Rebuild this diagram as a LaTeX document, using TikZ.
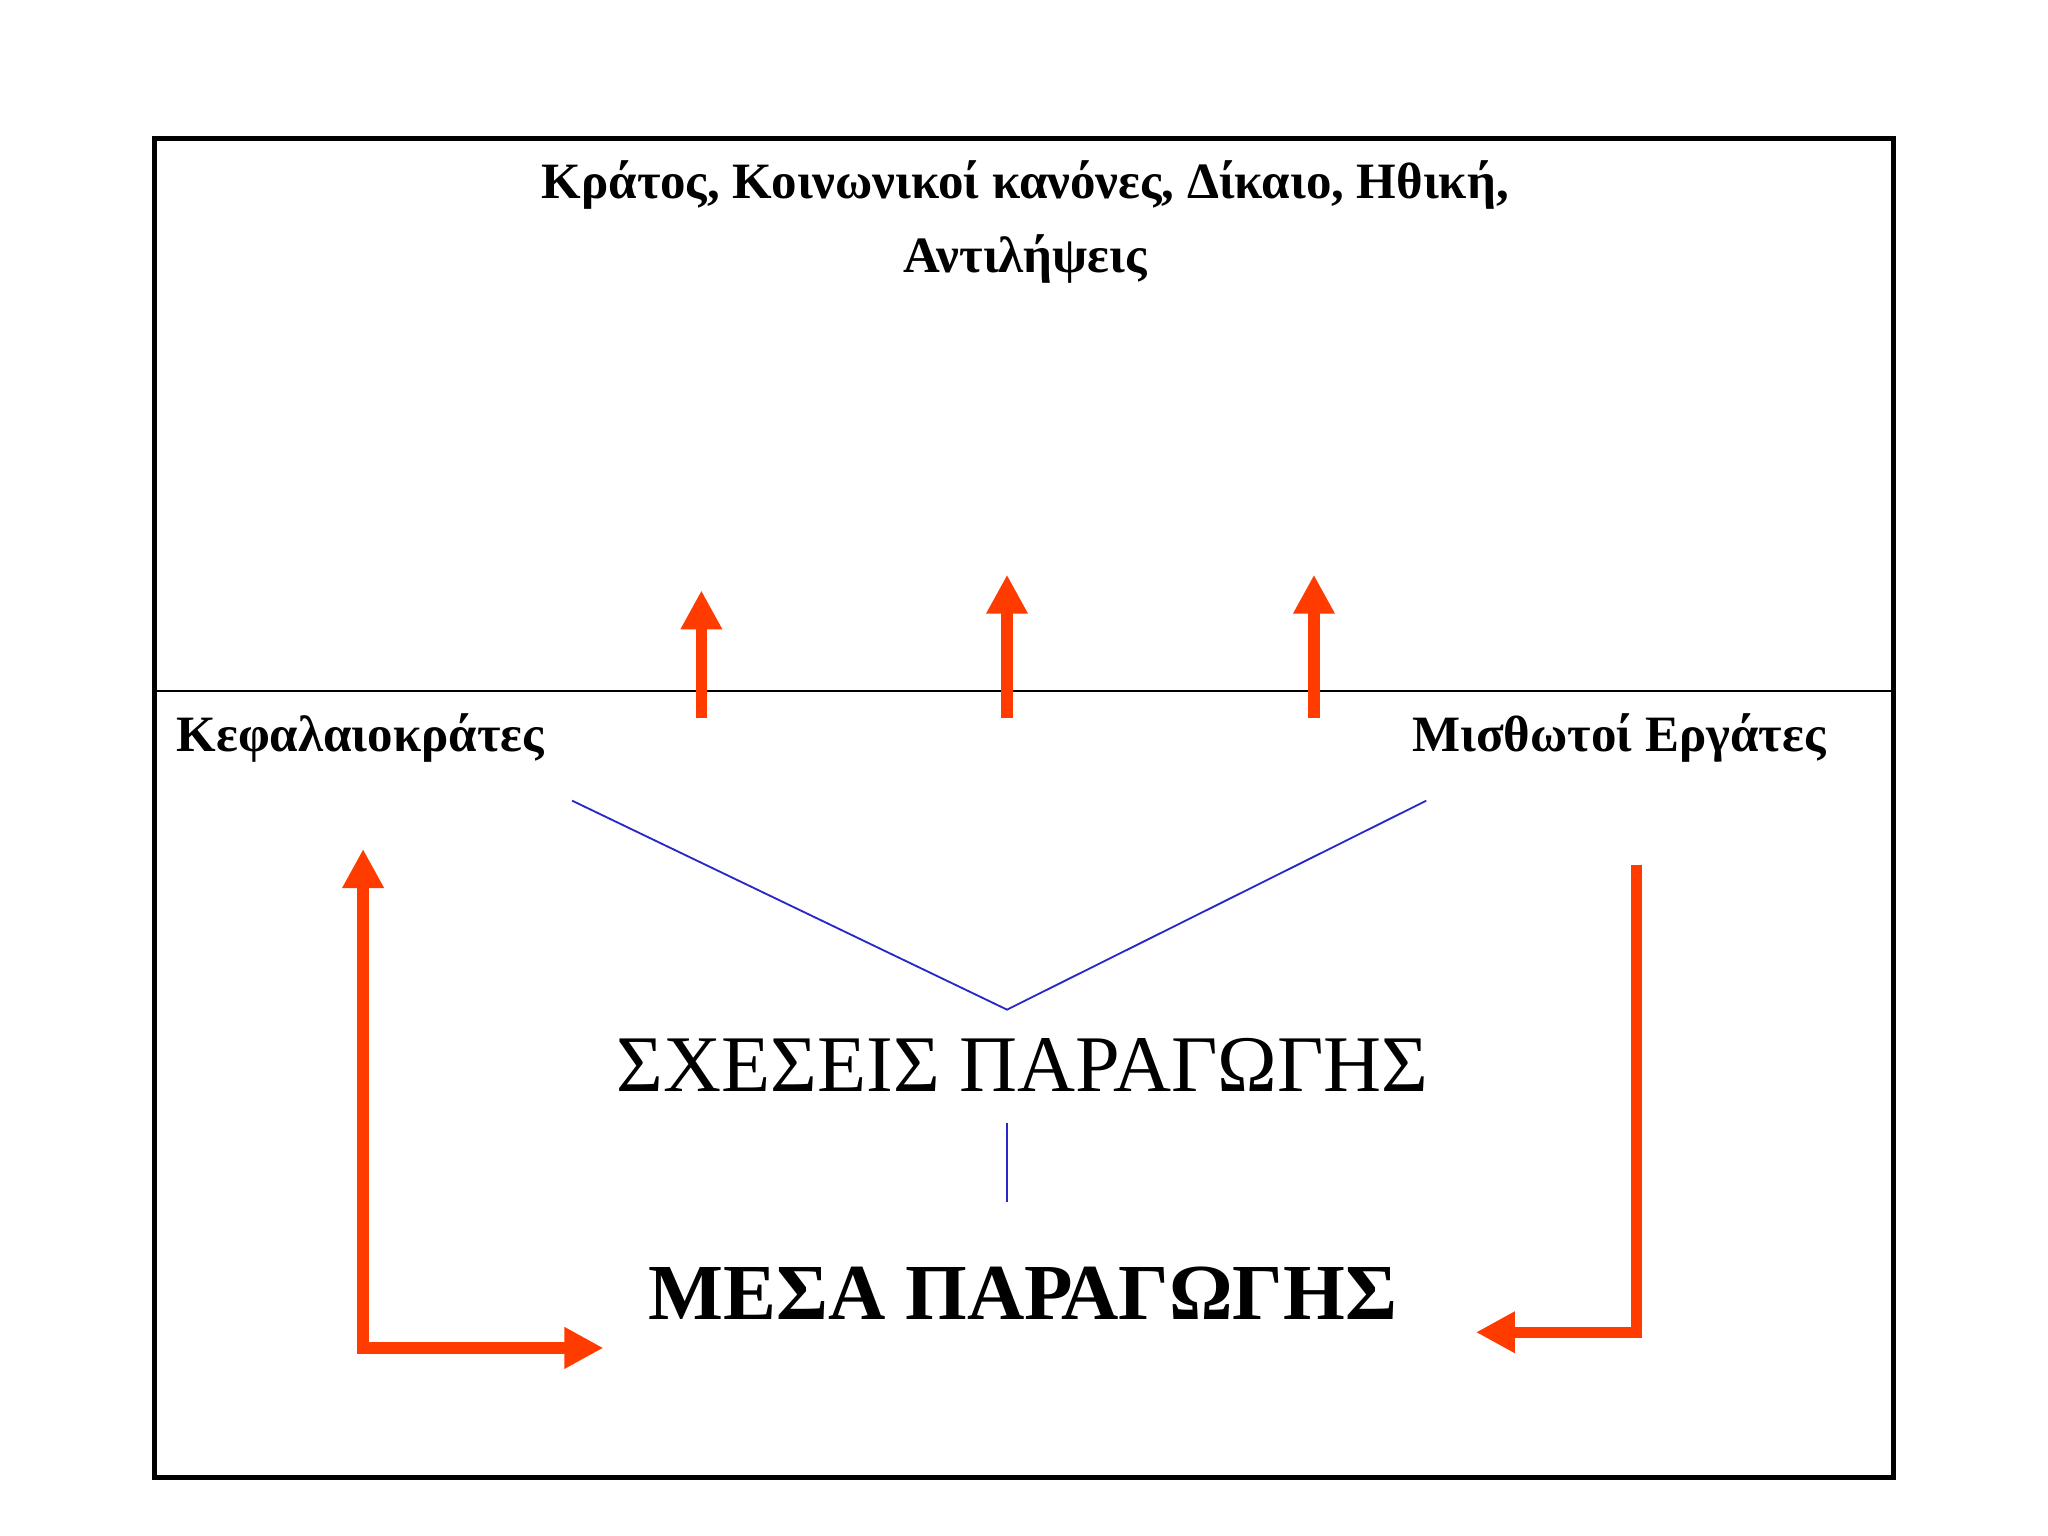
\documentclass[tikz,border=0pt]{standalone}
\usepackage{fontspec}
\setmainfont{Liberation Serif}
\usetikzlibrary{arrows.meta}
\definecolor{rarrow}{RGB}{255,59,0}
\definecolor{bline}{RGB}{40,40,200}
\tikzset{
  redarr/.style={rarrow,line width=5pt,-{Triangle[length=17pt,width=17pt]}},
  redln/.style={rarrow,line width=5pt},
  blueln/.style={bline,line width=0.8pt},
  lbl/.style={font=\bfseries\fontsize{22.2}{26}\selectfont,inner sep=0pt}
}
\begin{document}
\begin{tikzpicture}[x=0.02cm,y=-0.02cm]
\useasboundingbox (0,0) rectangle (1568,1176);
\draw[line width=2.2pt] (118,106) rectangle (1450,1131);
\draw[line width=1pt] (118,529) -- (1450,529);
\node[lbl,align=center] (title) at (785,170) {Κράτος, Κοινωνικοί κανόνες, Δίκαιο, Ηθική,\\[6pt] Αντιλήψεις};
\node[lbl,anchor=west] (kef) at (135,565) {Κεφαλαιοκράτες};
\node[lbl,anchor=east] (mis) at (1398,565) {Μισθωτοί Εργάτες};
\coordinate (a1) at (537,550); \coordinate (a1t) at (537,452);
\coordinate (a2) at (771,550); \coordinate (a2t) at (771,440);
\coordinate (a3) at (1006,550); \coordinate (a3t) at (1006,440);
\draw[redarr] (a1) -- (a1t);
\draw[redarr] (a2) -- (a2t);
\draw[redarr] (a3) -- (a3t);
\coordinate (bl) at (438,613); \coordinate (bv) at (771,773); \coordinate (br) at (1092,613);
\draw[blueln] (bl) -- (bv) -- (br);
\node[inner sep=0pt,font=\fontsize{35}{40}\selectfont] (sx) at (783,815) {ΣΧΕΣΕΙΣ ΠΑΡΑΓΩΓΗΣ};
\coordinate (v1) at (771,860); \coordinate (v2) at (771,920);
\draw[blueln] (v1) -- (v2);
\node[inner sep=0pt,font=\bfseries\fontsize{34.6}{40}\selectfont] (me) at (783,990) {ΜΕΣΑ ΠΑΡΑΓΩΓΗΣ};
\coordinate (lc) at (278,1032); \coordinate (lt) at (278,650); \coordinate (lr) at (462,1032);
\draw[redarr] (lc) -- (lt);
\draw[redarr] ([xshift=-2.5pt]lc) -- (lr);
\coordinate (rt) at (1253,662); \coordinate (rc) at (1253,1020); \coordinate (rl) at (1130,1020);
\draw[redln] (rt) -- ([yshift=-2.5pt]rc);
\draw[redarr] ([xshift=2.5pt]rc) -- (rl);
\end{tikzpicture}
\end{document}
